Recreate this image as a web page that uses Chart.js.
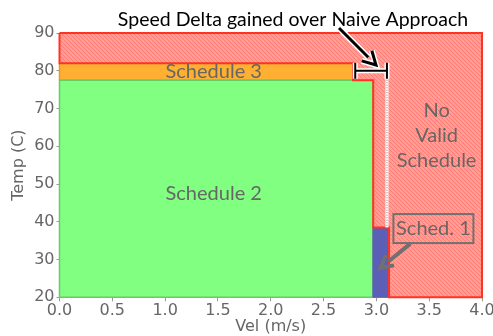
<!DOCTYPE html>
<html>
<head>
<meta charset="utf-8">
<script src="https://cdn.jsdelivr.net/npm/chart.js@4.4.1/dist/chart.umd.min.js"></script>
<style>
  html, body { margin: 0; padding: 0; background: #ffffff; }
  #wrap { width: 493px; height: 336px; }
</style>
</head>
<body>
<div id="wrap"><canvas id="chart" width="493" height="336"></canvas></div>
<script>
// region outlines, velocity (m/s) vs temperature (C)
const noValidVel = [0, 4, 4, 3.12, 3.12, 2.97, 2.97, 2.78, 2.78, 0, 0];
const noValidTemp = [90, 90, 20, 20, 38.5, 38.5, 77.5, 77.5, 82, 82, 90];
const sched3Vel = [0, 2.78, 2.78, 0, 0];
const sched3Temp = [77.5, 77.5, 82, 82, 77.5];
const sched2Vel = [0, 2.97, 2.97, 0, 0];
const sched2Temp = [20, 20, 77.5, 77.5, 20];
const sched1Vel = [2.97, 3.12, 3.12, 2.97, 2.97];
const sched1Temp = [20, 20, 38.5, 38.5, 20];
// naive approach limit vs. actual limit
const deltaVel = [2.8, 3.1];
const deltaTemp = 80;

const AXIS_FONT = "'DejaVu Sans', sans-serif";
const LABEL_FONT = "Lato, sans-serif";

const toPoints = (xs, ys) => xs.map((x, i) => ({ x: x, y: ys[i] }));

function hatch() {
  const c = document.createElement("canvas");
  c.width = 4; c.height = 4;
  const g = c.getContext("2d");
  g.fillStyle = "#ff9d96";
  g.fillRect(0, 0, 4, 4);
  g.strokeStyle = "#ff7c74";
  g.lineWidth = 1;
  g.beginPath();
  g.moveTo(0, 0); g.lineTo(4, 4);
  g.moveTo(-1, 3); g.lineTo(1, 5);
  g.moveTo(3, -1); g.lineTo(5, 1);
  g.stroke();
  return g.createPattern(c, "repeat");
}

function arrow(ctx, x1, y1, x2, y2, width, head, color, outline) {
  const a = Math.atan2(y2 - y1, x2 - x1);
  const bx = x2 - head * Math.cos(a), by = y2 - head * Math.sin(a);
  const pts = [
    [x2, y2],
    [bx + head * 0.55 * Math.sin(a), by - head * 0.55 * Math.cos(a)],
    [bx - head * 0.55 * Math.sin(a), by + head * 0.55 * Math.cos(a)]
  ];
  const draw = (lw, col) => {
    ctx.strokeStyle = col; ctx.fillStyle = col;
    ctx.lineWidth = lw; ctx.lineJoin = "miter"; ctx.lineCap = "butt";
    ctx.beginPath(); ctx.moveTo(x1, y1); ctx.lineTo(bx + 2 * Math.cos(a), by + 2 * Math.sin(a)); ctx.stroke();
    ctx.beginPath(); ctx.moveTo(pts[1][0], pts[1][1]); ctx.lineTo(pts[0][0], pts[0][1]); ctx.lineTo(pts[2][0], pts[2][1]);
    ctx.stroke();
  };
  if (outline) draw(width + 3, outline);
  draw(width, color);
}

const annotations = {
  id: "annotations",
  afterDatasetsDraw(chart) {
    const ctx = chart.ctx;
    const xs = chart.scales.x, ys = chart.scales.y;
    ctx.save();

    // dotted limit line
    const lx = xs.getPixelForValue(deltaVel[1]);
    ctx.strokeStyle = "#ffffff"; ctx.lineWidth = 3;
    ctx.beginPath(); ctx.moveTo(lx, ys.getPixelForValue(deltaTemp) - 6); ctx.lineTo(lx, ys.getPixelForValue(38.5)); ctx.stroke();
    ctx.strokeStyle = "#777777"; ctx.lineWidth = 1; ctx.setLineDash([1, 1.5]);
    ctx.beginPath(); ctx.moveTo(lx, ys.getPixelForValue(deltaTemp) + 4); ctx.lineTo(lx, ys.getPixelForValue(38.5)); ctx.stroke();
    ctx.setLineDash([]);

    // delta bracket
    const bx1 = xs.getPixelForValue(deltaVel[0]), bx2 = xs.getPixelForValue(deltaVel[1]);
    const by = ys.getPixelForValue(deltaTemp);
    [["#ffffff", 5], ["#000000", 2]].forEach(([col, lw]) => {
      ctx.strokeStyle = col; ctx.lineWidth = lw; ctx.lineCap = "butt";
      ctx.beginPath();
      ctx.moveTo(bx1, by); ctx.lineTo(bx2, by);
      ctx.moveTo(bx1, by - 8); ctx.lineTo(bx1, by + 8);
      ctx.moveTo(bx2, by - 8); ctx.lineTo(bx2, by + 8);
      ctx.stroke();
    });

    // black arrow from title
    arrow(ctx, 339, 28, 376, 65, 3, 13, "#000000", "#ffffff");

    // labels
    ctx.fillStyle = "#666666";
    ctx.font = "20px " + LABEL_FONT;
    ctx.textAlign = "center"; ctx.textBaseline = "middle";
    ctx.fillText("Schedule 3", xs.getPixelForValue(1.46), ys.getPixelForValue(79.7));
    ctx.fillText("Schedule 2", xs.getPixelForValue(1.46), ys.getPixelForValue(47.5));
    const cx = xs.getPixelForValue(3.57);
    ctx.fillText("No", cx, ys.getPixelForValue(69.5));
    ctx.fillText("Valid", cx, ys.getPixelForValue(62.8));
    ctx.fillText("Schedule", cx, ys.getPixelForValue(56.2));

    // Sched. 1 box + arrow
    const sx = xs.getPixelForValue(3.54), sy = ys.getPixelForValue(38.2);
    ctx.strokeStyle = "#707070"; ctx.lineWidth = 2;
    ctx.strokeRect(sx - 40, sy - 14.5, 80, 29);
    ctx.fillText("Sched. 1", sx, sy);
    arrow(ctx, sx - 23, sy + 15, xs.getPixelForValue(3.04), ys.getPixelForValue(27.8), 4, 12, "#707070", null);

    // title
    ctx.fillStyle = "#000000";
    ctx.font = "19.5px " + LABEL_FONT;
    ctx.fillText("Speed Delta gained over Naive Approach", 293, 20);
    ctx.restore();
  }
};

const pattern = hatch();
const ctx = document.getElementById("chart").getContext("2d");
new Chart(ctx, {
  type: "scatter",
  data: {
    datasets: [
      { data: toPoints(sched3Vel, sched3Temp), backgroundColor: "#ffb033", borderColor: "#e8962a", borderWidth: 1.5 },
      { data: toPoints(sched2Vel, sched2Temp), backgroundColor: "#80ff80", borderColor: "#66cc66", borderWidth: 1.5 },
      { data: toPoints(sched1Vel, sched1Temp), backgroundColor: "#5b5fb5", borderColor: "#5b5fb5", borderWidth: 1 },
      { data: toPoints(noValidVel, noValidTemp), backgroundColor: pattern, borderColor: "#ff3322", borderWidth: 2 }
    ].map((d, i) => Object.assign(d, { showLine: true, fill: "shape", pointRadius: 0, tension: 0, order: 4 - i, clip: 2 }))
  },
  options: {
    responsive: false,
    animation: false,
    layout: { padding: { top: 33, right: 11, left: 0, bottom: 0 } },
    plugins: { legend: { display: false }, tooltip: { enabled: false } },
    scales: {
      x: {
        type: "linear", min: 0, max: 4,
        ticks: { stepSize: 0.5, color: "#666666", font: { family: AXIS_FONT, size: 16 }, padding: 0, callback: v => v.toFixed(1) },
        grid: { drawOnChartArea: false, tickLength: 4, color: "#999999" },
        border: { color: "#bbbbbb" },
        title: { display: true, text: "Vel (m/s)", color: "#666666", font: { family: AXIS_FONT, size: 16 }, padding: 0 },
        afterFit: s => { s.height = 38.7; s.paddingLeft = 0; s.paddingRight = 0; }
      },
      y: {
        type: "linear", min: 20, max: 90,
        ticks: { stepSize: 10, color: "#666666", font: { family: AXIS_FONT, size: 16 }, padding: 2 },
        grid: { drawOnChartArea: false, tickLength: 3, color: "#999999" },
        border: { color: "#bbbbbb" },
        title: { display: true, text: "Temp (C)", color: "#666666", font: { family: AXIS_FONT, size: 16 }, padding: { top: 9, bottom: 0 } },
        afterFit: s => { s.width = 59.5; s.paddingTop = 0; s.paddingBottom = 0; }
      }
    }
  },
  plugins: [annotations]
});
</script>
</body>
</html>
